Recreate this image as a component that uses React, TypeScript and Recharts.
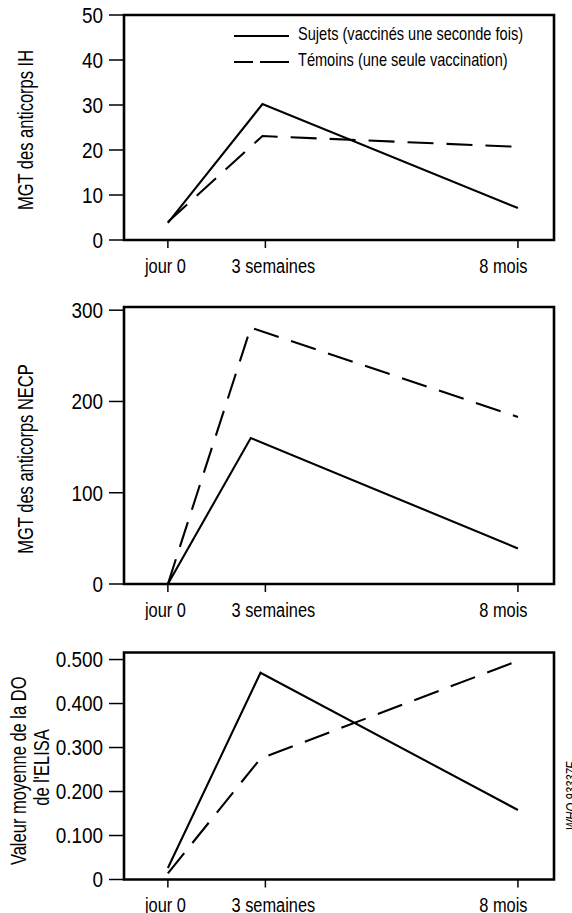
import { LineChart, Line, XAxis, YAxis, ReferenceArea, Legend } from "recharts";

const FONT = "'Liberation Sans', Arial, sans-serif";

// axe du temps (positions relatives des trois relevés)
const timeLabels = ["jour 0", "3 semaines", "8 mois"];
const timeTicks = [0, 1, 3.59];
const X_DOMAIN: [number, number] = [-0.45, 3.96];

const seriesNames = [
  "Sujets (vaccinés une seconde fois)",
  "Témoins (une seule vaccination)",
];

// MGT des anticorps IH
const ihTime = [0, 0.97, 3.59];
const ihSujets = [3.8, 30.2, 7.1];
const ihTemoins = [4, 23.1, 20.7];
const ihTicks = [0, 10, 20, 30, 40, 50];

// MGT des anticorps NECP
const necpTime = [0, 0.85, 3.59];
const necpSujets = [0, 160, 39];
const necpTemoins = [0, 281, 183];
const necpTicks = [0, 100, 200, 300];

// valeur moyenne de la DO (ELISA)
const elisaTime = [0, 0.95, 3.59];
const elisaSujets = [0.026, 0.47, 0.158];
const elisaTemoins = [0.014, 0.275, 0.497];
const elisaTicks = [0, 0.1, 0.2, 0.3, 0.4, 0.5];

const toRows = (t: number[], a: number[], b: number[]) =>
  t.map((v, i) => ({ t: v, a: a[i], b: b[i] }));

const ihData = toRows(ihTime, ihSujets, ihTemoins);
const necpData = toRows(necpTime, necpSujets, necpTemoins);
const elisaData = toRows(elisaTime, elisaSujets, elisaTemoins);

const DASH = "26 13";
const labelShift = [-2.5, 8, -14.5];

// texte "condensé" : police Arial-like écrasée horizontalement
function NText(props: any) {
  const { x, y, rot = 0, sx, size, anchor = "middle", dy, children, ...rest } = props;
  return (
    <text
      transform={`translate(${x} ${y}) rotate(${rot}) scale(${sx} 1)`}
      x={0}
      y={0}
      dy={dy}
      textAnchor={anchor}
      fontSize={size}
      fontFamily={FONT}
      fill="#000"
      {...rest}
    >
      {children}
    </text>
  );
}

function TimeTick(props: any) {
  const { x, y, payload } = props;
  const i = timeTicks.indexOf(payload.value);
  return (
    <NText x={x + (labelShift[i] ?? 0)} y={y} dy="0.71em" sx={0.78} size={21}>
      {timeLabels[i]}
    </NText>
  );
}

function makeValueTick(fmt: (v: number) => string) {
  return (props: any) => {
    const { x, y, payload } = props;
    return (
      <NText x={x} y={y} dy="0.355em" anchor="end" sx={0.86} size={22}>
        {fmt(payload.value)}
      </NText>
    );
  };
}

function LegendBox() {
  return (
    <svg width={300} height={52} style={{ display: "block" }}>
      {seriesNames.map((name, i) => (
        <g key={name}>
          <line
            x1={0}
            x2={55}
            y1={14 + i * 26}
            y2={14 + i * 26}
            stroke="#000"
            strokeWidth={2.2}
            strokeDasharray={i === 1 ? "19 7 30" : undefined}
          />
          <NText x={64} y={12 + i * 26} dy="0.355em" anchor="start" sx={0.81} size={18}>
            {name}
          </NText>
        </g>
      ))}
    </svg>
  );
}

type PanelProps = {
  height: number;
  top: number;
  bottom: number;
  yMax: number;
  yTicks: number[];
  yFmt: (v: number) => string;
  data: { t: number; a: number; b: number }[];
  title: (p: any) => any;
  legend?: boolean;
};

function Panel({ height, top, bottom, yMax, yTicks, yFmt, data, title, legend }: PanelProps) {
  const ValueTick = makeValueTick(yFmt);
  return (
    <LineChart
      width={572}
      height={height}
      data={data}
      margin={{ top, right: 18, bottom: 0, left: 0 }}
    >
      <XAxis
        type="number"
        dataKey="t"
        domain={X_DOMAIN}
        ticks={timeTicks}
        allowDataOverflow
        interval={0}
        axisLine={false}
        tickLine={{ stroke: "#000", strokeWidth: 1.5 }}
        tickSize={8}
        tickMargin={10}
        height={bottom}
        tick={<TimeTick />}
      />
      <YAxis
        type="number"
        domain={[0, yMax]}
        ticks={yTicks}
        allowDataOverflow
        interval={0}
        width={124}
        axisLine={false}
        tickLine={{ stroke: "#000", strokeWidth: 1.5 }}
        tickSize={15}
        tickMargin={6}
        tick={<ValueTick />}
        label={title}
      />
      <ReferenceArea
        x1={X_DOMAIN[0]}
        x2={X_DOMAIN[1]}
        y1={0}
        y2={yMax}
        fill="none"
        stroke="#000"
        strokeWidth={2.6}
        ifOverflow="visible"
      />
      <Line
        name={seriesNames[0]}
        dataKey="a"
        type="linear"
        stroke="#000"
        strokeWidth={2.1}
        dot={false}
        isAnimationActive={false}
      />
      <Line
        name={seriesNames[1]}
        dataKey="b"
        type="linear"
        stroke="#000"
        strokeWidth={2.1}
        strokeDasharray={DASH}
        dot={false}
        isAnimationActive={false}
      />
      {legend && (
        <Legend
          layout="vertical"
          align="center"
          verticalAlign="middle"
          wrapperStyle={{ top: 22, left: 234, width: "auto" }}
          content={() => <LegendBox />}
        />
      )}
    </LineChart>
  );
}

const title = (x: number, y: number, s: string) => (
  <NText key={s} x={x} y={y} rot={-90} sx={0.75} size={22} dominantBaseline="central">
    {s}
  </NText>
);

export default function App() {
  return (
    <div
      style={{
        position: "absolute",
        left: 0,
        top: 0,
        width: 572,
        height: 913,
        background: "#fff",
        overflow: "hidden",
      }}
    >
      <Panel
        height={290}
        top={15}
        bottom={50}
        yMax={50}
        yTicks={ihTicks}
        yFmt={(v) => String(v)}
        data={ihData}
        legend
        title={() => title(25.5, 130, "MGT des anticorps IH")}
      />
      <Panel
        height={330}
        top={17}
        bottom={36}
        yMax={303.5}
        yTicks={necpTicks}
        yFmt={(v) => String(v)}
        data={necpData}
        title={() => title(25.5, 169, "MGT des anticorps NECP")}
      />
      <Panel
        height={293}
        top={32.5}
        bottom={33.5}
        yMax={0.516}
        yTicks={elisaTicks}
        yFmt={(v) => (v === 0 ? "0" : v.toFixed(3))}
        data={elisaData}
        title={() => (
          <g>
            {title(18, 150.8, "Valeur moyenne de la DO")}
            {title(41, 147.5, "de l'ELISA")}
            <NText x={576} y={176} rot={-90} sx={0.8} size={14} fontStyle="italic">
              WHO 93337F
            </NText>
          </g>
        )}
      />
    </div>
  );
}
